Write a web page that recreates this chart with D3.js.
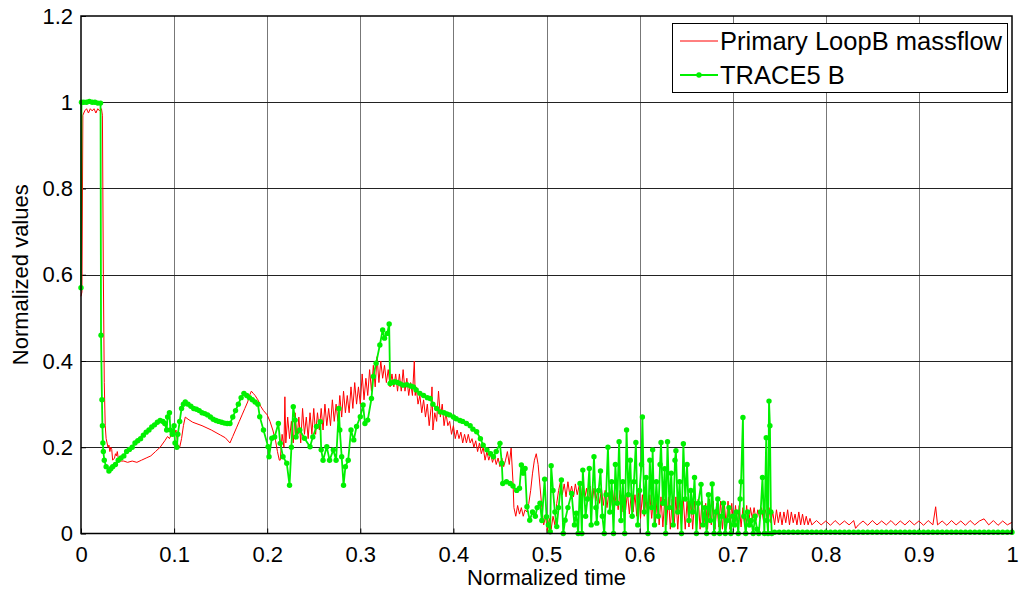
<!DOCTYPE html>
<html><head><meta charset="utf-8">
<script src="https://cdn.jsdelivr.net/npm/d3@7"></script>
<style>body{margin:0;background:#fff}svg{display:block}text{font-family:"Liberation Sans",Arial,sans-serif}</style>
</head><body><svg id="c" width="1021" height="596"></svg>
<script>
const xTicks=[0,0.1,0.2,0.3,0.4,0.5,0.6,0.7,0.8,0.9,1];
const yTicks=[0,0.2,0.4,0.6,0.8,1,1.2];
const seriesNames=["Primary LoopB massflow","TRACE5 B"];
const seriesColors=["#ff0000","#00f000"];
const xLabel="Normalized time", yLabel="Normalized values";

// Primary LoopB massflow: [normalized time, normalized value]
const redPts=[[0,0.55],[0.001,0.56],[0.002,0.97],[0.004,0.98],[0.006,0.985],[0.008,0.975],[0.010,0.985],[0.012,0.98],[0.014,0.985],[0.016,0.975],[0.018,0.985],[0.020,0.98],[0.022,0.985],[0.023,0.97],[0.024,0.6],[0.025,0.35],[0.026,0.25],[0.027,0.22],[0.028,0.21],[0.029,0.20],[0.030,0.205],[0.031,0.19],[0.032,0.2],[0.033,0.195],[0.034,0.17],[0.036,0.175],[0.037,0.185],[0.038,0.18],[0.039,0.19],[0.040,0.175],[0.042,0.168],[0.046,0.168],[0.05,0.165],[0.055,0.168],[0.06,0.165],[0.065,0.17],[0.07,0.175],[0.075,0.18],[0.08,0.19],[0.085,0.2],[0.09,0.215],[0.093,0.225],[0.095,0.22],[0.098,0.235],[0.1,0.225],[0.102,0.24],[0.104,0.205],[0.106,0.2],[0.108,0.22],[0.11,0.25],[0.112,0.27],[0.115,0.265],[0.12,0.258],[0.13,0.25],[0.14,0.24],[0.15,0.228],[0.155,0.222],[0.16,0.21],[0.163,0.225],[0.167,0.245],[0.17,0.26],[0.173,0.275],[0.176,0.29],[0.179,0.305],[0.181,0.32],[0.183,0.33],[0.185,0.325],[0.187,0.32],[0.19,0.31],[0.193,0.295],[0.196,0.285],[0.2,0.275],[0.203,0.26],[0.206,0.24],[0.209,0.215],[0.211,0.19],[0.213,0.17],
[0.214,0.17],[0.216,0.23],[0.218,0.20],[0.219,0.317],[0.220,0.21],[0.222,0.27],[0.224,0.22],[0.226,0.26],[0.228,0.21],[0.230,0.28],[0.232,0.22],[0.234,0.27],[0.236,0.21],[0.238,0.29],[0.240,0.23],[0.242,0.27],[0.244,0.22],[0.246,0.28],[0.248,0.23],[0.250,0.29],[0.252,0.23],[0.254,0.28],[0.256,0.24],[0.258,0.29],[0.260,0.24],[0.262,0.30],[0.264,0.25],[0.266,0.29],[0.268,0.25],[0.270,0.31],[0.272,0.26],[0.274,0.30],[0.276,0.26],[0.278,0.32],[0.280,0.27],[0.282,0.33],[0.284,0.28],[0.286,0.32],[0.288,0.28],[0.290,0.34],[0.292,0.29],[0.294,0.35],[0.296,0.30],[0.298,0.34],[0.300,0.30],[0.302,0.37],[0.304,0.31],[0.306,0.36],[0.308,0.32],[0.310,0.38],[0.312,0.33],[0.314,0.39],[0.316,0.34],[0.318,0.41],[0.320,0.35],[0.322,0.40],[0.324,0.36],[0.326,0.39],[0.328,0.35],[0.330,0.38],[0.332,0.34],[0.334,0.37],[0.336,0.34],[0.338,0.37],[0.340,0.33],
[0.342,0.37],[0.344,0.33],[0.346,0.38],[0.348,0.33],[0.350,0.36],[0.352,0.32],[0.354,0.35],[0.356,0.32],[0.358,0.40],[0.359,0.32],[0.360,0.34],[0.362,0.30],[0.364,0.32],[0.366,0.28],[0.368,0.31],[0.370,0.27],[0.372,0.30],[0.374,0.25],[0.376,0.29],[0.377,0.34],[0.378,0.24],[0.380,0.28],[0.382,0.26],[0.384,0.33],[0.386,0.27],[0.388,0.30],[0.390,0.25],[0.392,0.28],[0.394,0.25],[0.396,0.26],[0.398,0.23],[0.400,0.25],[0.402,0.22],[0.404,0.24],[0.406,0.22],[0.408,0.235],[0.410,0.21],[0.412,0.23],[0.414,0.21],[0.416,0.23],[0.418,0.21],[0.420,0.22],[0.422,0.20],[0.424,0.215],[0.426,0.19],[0.428,0.21],[0.430,0.185],[0.432,0.2],[0.434,0.17],[0.436,0.19],[0.438,0.17],[0.440,0.185],[0.442,0.165],[0.444,0.18],[0.446,0.16],[0.448,0.175],[0.450,0.155],[0.452,0.175],[0.454,0.155],[0.456,0.17],[0.458,0.19],[0.460,0.16],[0.462,0.198],[0.464,0.12],
[0.465,0.06],[0.467,0.04],[0.469,0.065],[0.471,0.045],[0.473,0.06],[0.475,0.04],[0.477,0.055],[0.479,0.05],[0.481,0.07],[0.483,0.1],[0.485,0.14],[0.487,0.17],[0.489,0.185],[0.491,0.16],[0.493,0.11],[0.495,0.06],[0.497,0.02],[0.499,0.04],[0.501,0.005],[0.503,0.035],[0.505,0.01],[0.507,0.04],[0.509,0.02],[0.511,0.07],[0.513,0.1],
[0.515,0.12],[0.517,0.09],[0.519,0.115],[0.521,0.085],[0.523,0.12],[0.525,0.09],[0.527,0.11],[0.529,0.085],[0.531,0.115],[0.533,0.09],[0.535,0.11],[0.537,0.08],[0.539,0.115],[0.541,0.08],[0.543,0.105],[0.545,0.075],[0.547,0.11],[0.549,0.07],[0.551,0.105],[0.553,0.075],[0.555,0.1],[0.557,0.07],[0.559,0.105],[0.561,0.065],[0.563,0.1],[0.565,0.06],[0.567,0.095],[0.569,0.065],[0.571,0.1],[0.573,0.06],[0.575,0.095],[0.577,0.055],[0.579,0.1],[0.581,0.05],[0.583,0.09],[0.585,0.055],[0.587,0.095],[0.589,0.045],[0.591,0.09],[0.593,0.05],[0.595,0.09],[0.597,0.04],[0.599,0.095],[0.601,0.035],[0.603,0.09],[0.605,0.04],[0.607,0.085],[0.609,0.03],[0.611,0.09],[0.613,0.035],[0.615,0.085],[0.617,0.025],[0.619,0.09],[0.621,0.02],[0.623,0.085],[0.625,0.015],[0.627,0.08],[0.629,0.02],[0.631,0.085],[0.633,0.01],[0.635,0.08],[0.637,0.015],[0.639,0.085],[0.641,0.01],[0.643,0.08],[0.645,0.02],[0.647,0.08],[0.649,0.01],[0.651,0.075],[0.653,0.015],[0.655,0.08],[0.657,0.01],[0.659,0.075],[0.661,0.02],[0.663,0.08],[0.665,0.01],[0.667,0.075],[0.669,0.015],[0.671,0.07],[0.673,0.01],[0.675,0.08],[0.677,0.02],[0.679,0.075],[0.681,0.01],[0.683,0.07],[0.685,0.015],[0.687,0.075],[0.689,0.01],[0.691,0.07],[0.693,0.02],[0.695,0.075],[0.697,0.01],[0.699,0.07],[0.701,0.015],[0.703,0.065],[0.705,0.02],[0.707,0.065],[0.709,0.015],[0.711,0.06],[0.713,0.02],[0.715,0.065],[0.717,0.015],[0.719,0.06],[0.721,0.035],[0.723,0.06],[0.725,0.03],[0.727,0.055],[0.729,0.035],[0.731,0.06],[0.733,0.03],[0.735,0.055],[0.737,0.035],[0.739,0.06],[0.741,0.025],[0.743,0.05],[0.745,0.02],[0.747,0.055],[0.749,0.025],[0.751,0.05],[0.753,0.02],[0.755,0.05],[0.757,0.025],[0.759,0.055],[0.761,0.02],[0.763,0.05],[0.765,0.025],[0.767,0.045],[0.769,0.02],[0.771,0.05],[0.773,0.02],[0.775,0.045],[0.777,0.02],[0.779,0.04],[0.781,0.02],[0.783,0.035],[0.785,0.02],
[0.79,0.03],[0.795,0.02],[0.8,0.029],[0.805,0.019],[0.81,0.03],[0.815,0.02],[0.82,0.029],[0.825,0.02],[0.83,0.03],[0.832,0.012],[0.835,0.02],[0.84,0.029],[0.845,0.019],[0.85,0.03],[0.855,0.02],[0.86,0.029],[0.865,0.02],[0.87,0.03],[0.875,0.019],[0.88,0.029],[0.885,0.02],[0.89,0.03],[0.895,0.02],[0.9,0.029],[0.905,0.019],[0.91,0.03],[0.915,0.02],[0.918,0.062],[0.92,0.02],[0.925,0.029],[0.93,0.019],[0.935,0.03],[0.94,0.02],[0.945,0.029],[0.95,0.019],[0.955,0.03],[0.96,0.02],[0.965,0.029],[0.97,0.034],[0.975,0.02],[0.98,0.03],[0.985,0.019],[0.99,0.029],[0.995,0.02],[1.0,0.026]];

// TRACE5 B: [normalized time, normalized value]
const greenPts=[[0,0.57],[0.0005,1.0],[0.003,1.0],[0.006,1.0],[0.009,1.002],[0.012,1.0],[0.015,1.0],[0.018,0.998],[0.021,0.998],[0.0215,0.46],[0.0225,0.31],[0.023,0.25],[0.0235,0.21],[0.024,0.19],[0.025,0.17],[0.027,0.155],[0.03,0.145],[0.032,0.15],[0.034,0.155],[0.037,0.16],[0.04,0.17],[0.043,0.175],[0.046,0.18],[0.049,0.19],[0.052,0.195],[0.055,0.2],[0.058,0.21],[0.061,0.215],[0.064,0.22],[0.067,0.228],[0.07,0.235],[0.073,0.24],[0.076,0.247],[0.079,0.252],[0.082,0.258],[0.085,0.262],[0.088,0.26],[0.09,0.255],[0.092,0.24],[0.093,0.27],[0.095,0.28],[0.096,0.24],[0.098,0.23],[0.1,0.25],[0.101,0.21],[0.103,0.2],[0.104,0.23],[0.106,0.26],[0.108,0.29],[0.11,0.3],[0.112,0.305],[0.115,0.3],[0.118,0.295],[0.121,0.29],[0.124,0.288],[0.127,0.285],[0.13,0.28],[0.133,0.278],[0.136,0.275],[0.139,0.27],[0.142,0.265],[0.145,0.262],[0.148,0.26],[0.151,0.258],[0.154,0.256],[0.157,0.255],[0.16,0.255],[0.163,0.27],[0.166,0.285],[0.169,0.3],[0.172,0.315],[0.175,0.325],[0.178,0.32],[0.181,0.315],[0.184,0.31],[0.187,0.305],[0.19,0.3],
[0.192,0.271],[0.196,0.24],[0.201,0.201],[0.202,0.178],[0.205,0.221],[0.208,0.224],[0.212,0.255],[0.214,0.209],[0.217,0.178],[0.221,0.163],[0.224,0.112],[0.226,0.2],[0.228,0.294],[0.23,0.263],[0.231,0.224],[0.235,0.24],[0.24,0.221],[0.246,0.201],[0.249,0.224],[0.253,0.248],[0.257,0.259],[0.258,0.194],[0.26,0.17],[0.264,0.201],[0.267,0.17],[0.271,0.194],[0.274,0.17],[0.277,0.29],[0.278,0.24],[0.28,0.178],[0.282,0.112],[0.284,0.155],[0.287,0.17],[0.29,0.24],[0.293,0.217],[0.296,0.248],[0.3,0.271],[0.303,0.298],[0.305,0.255],[0.308,0.263],[0.312,0.313],[0.314,0.364],[0.317,0.395],[0.321,0.437],[0.324,0.472],[0.326,0.453],[0.329,0.464],[0.331,0.486],[0.332,0.348],[0.335,0.35],[0.337,0.352],[0.34,0.35],[0.343,0.347],[0.346,0.344],[0.35,0.345],[0.354,0.342],[0.357,0.34],[0.36,0.333],[0.364,0.325],[0.368,0.32],[0.372,0.315],[0.375,0.313],[0.378,0.3],[0.382,0.29],[0.386,0.282],[0.39,0.28],[0.393,0.277],[0.396,0.275],[0.4,0.27],[0.403,0.266],[0.407,0.262],[0.41,0.26],[0.414,0.255],[0.418,0.25],[0.421,0.242],[0.425,0.236],[0.429,0.22],[0.432,0.205],[0.436,0.194],[0.44,0.185],[0.443,0.178],[0.446,0.19],[0.45,0.209],[0.452,0.163],[0.453,0.116],[0.457,0.12],[0.461,0.116],[0.464,0.11],[0.468,0.1],[0.471,0.105],[0.473,0.159],[0.475,0.14],[0.477,0.151],[0.479,0.062],[0.482,0.031],[0.485,0.05],[0.488,0.04],[0.49,0.06],[0.493,0.07],[0.495,0.03],[0.498,0.126],[0.5,0.039],[0.502,0.02],[0.504,0.004],[0.505,0.157],[0.507,0.1],[0.509,0.05],[0.511,0.016],[0.513,0.06],[0.516,0.124],[0.518,0.0],[0.52,0.031],[0.523,0.06],[0.527,0.093],[0.53,0.02],[0.532,0.047],[0.534,0.0],[0.536,0.116],[0.538,0.0],[0.539,0.147],[0.542,0.04],[0.544,0.08],[0.546,0.151],[0.548,0.02],[0.551,0.178],[0.553,0.06],[0.554,0.024],[0.556,0.1],[0.558,0.145],[0.56,0.04],[0.562,0.0],[0.564,0.09],[0.566,0.2],[0.568,0.05],[0.57,0.12],[0.572,0.0],[0.574,0.16],[0.576,0.07],[0.578,0.213],[0.58,0.03],[0.582,0.12],[0.584,0.0],[0.586,0.24],[0.588,0.09],[0.59,0.17],[0.592,0.04],[0.594,0.12],[0.596,0.211],[0.598,0.02],[0.6,0.1],[0.602,0.16],[0.603,0.27],[0.605,0.05],[0.607,0.13],[0.609,0.0],[0.611,0.17],[0.613,0.06],[0.614,0.194],[0.616,0.02],[0.618,0.12],[0.62,0.04],[0.622,0.16],[0.623,0.211],[0.625,0.07],[0.627,0.15],[0.628,0.0],[0.63,0.213],[0.632,0.06],[0.634,0.14],[0.636,0.02],[0.638,0.17],[0.639,0.192],[0.641,0.05],[0.643,0.12],[0.645,0.0],[0.647,0.208],[0.649,0.08],[0.651,0.16],[0.653,0.03],[0.655,0.1],[0.657,0.05],[0.659,0.13],[0.661,0.0],[0.663,0.07],[0.666,0.114],[0.668,0.02],[0.67,0.06],[0.672,0.0],[0.674,0.09],[0.676,0.03],[0.678,0.115],[0.68,0.0],[0.682,0.05],[0.684,0.08],[0.686,0.0],[0.688,0.04],[0.69,0.07],[0.692,0.0],[0.694,0.03],[0.696,0.06],[0.698,0.0],[0.7,0.04],[0.702,0.02],[0.704,0.05],[0.706,0.0],[0.708,0.08],[0.709,0.12],[0.711,0.269],[0.712,0.04],[0.714,0.0],[0.716,0.05],[0.718,0.02],[0.72,0.03],[0.722,0.0],[0.724,0.04],[0.726,0.01],[0.728,0.0],[0.73,0.05],[0.732,0.13],[0.734,0.0],[0.736,0.222],[0.737,0.03],[0.738,0.0],[0.739,0.307],[0.74,0.25],[0.741,0.05],[0.742,0.0],
[0.745,0.003],[0.75,0.003],[0.755,0.003],[0.76,0.003],[0.765,0.003],[0.77,0.003],[0.775,0.003],[0.78,0.003],[0.785,0.003],[0.79,0.003],[0.795,0.003],[0.8,0.003],[0.805,0.003],[0.81,0.003],[0.815,0.003],[0.82,0.003],[0.825,0.003],[0.83,0.003],[0.835,0.003],[0.84,0.003],[0.845,0.003],[0.85,0.003],[0.855,0.003],[0.86,0.003],[0.865,0.003],[0.87,0.003],[0.875,0.003],[0.88,0.003],[0.885,0.003],[0.89,0.003],[0.895,0.003],[0.9,0.003],[0.905,0.003],[0.91,0.003],[0.915,0.003],[0.92,0.003],[0.925,0.003],[0.93,0.003],[0.935,0.003],[0.94,0.003],[0.945,0.003],[0.95,0.003],[0.955,0.003],[0.96,0.003],[0.965,0.003],[0.97,0.003],[0.975,0.003],[0.98,0.003],[0.985,0.003],[0.99,0.003],[0.995,0.003],[1.0,0.003]];

const red=redPts.map(([t,v])=>({t,v}));
const green=greenPts.map(([t,v])=>({t,v}));

const L=81,T=16,W=931,H=517.5;
const svg=d3.select("#c");
const x=d3.scaleLinear().domain([0,1]).range([L,L+W]);
const y=d3.scaleLinear().domain([0,1.2]).range([T+H,T]);

// grid
const g=svg.append("g");
g.selectAll(".vg").data(xTicks.slice(1,-1)).join("line")
 .attr("x1",d=>Math.round(x(d))+0.5).attr("x2",d=>Math.round(x(d))+0.5).attr("y1",T).attr("y2",T+H)
 .attr("stroke","#777").attr("stroke-width",1);
g.selectAll(".hg").data(yTicks.slice(1,-1)).join("line")
 .attr("y1",d=>Math.round(y(d))+0.5).attr("y2",d=>Math.round(y(d))+0.5).attr("x1",L).attr("x2",L+W)
 .attr("stroke","#222").attr("stroke-width",1);

// axes
const xa=svg.append("g").attr("transform",`translate(0,${T+H})`)
 .call(d3.axisBottom(x).tickValues(xTicks).tickSize(-5).tickPadding(13).tickFormat(d=>d3.format("")(d)));
const ya=svg.append("g").attr("transform",`translate(${L},0)`)
 .call(d3.axisLeft(y).tickValues(yTicks).tickSize(-5).tickPadding(8).tickFormat(d=>d3.format("")(d)));
[xa,ya].forEach(a=>{a.select(".domain").remove();a.selectAll("text").attr("font-size",22).attr("fill","#000").style("font-family",'"Liberation Sans",Arial,sans-serif');a.selectAll("line").attr("stroke","#000");});
xa.selectAll("text").attr("dy","0.71em");

// lines
const line=d3.line().x(d=>x(d.t)).y(d=>y(d.v));
svg.append("path").datum(red).attr("d",line).attr("fill","none").attr("stroke",seriesColors[0]).attr("stroke-width",1);
svg.append("path").datum(green).attr("d",line).attr("fill","none").attr("stroke",seriesColors[1]).attr("stroke-width",1.8);
svg.append("g").selectAll("circle").data(green).join("circle")
 .attr("cx",d=>x(d.t)).attr("cy",d=>y(d.v)).attr("r",2.7).attr("fill",seriesColors[1]);

// frame
svg.append("rect").attr("x",L).attr("y",T).attr("width",W).attr("height",H).attr("fill","none").attr("stroke","#000").attr("stroke-width",1.5);

// labels
svg.append("text").attr("x",L+W/2).attr("y",585).attr("text-anchor","middle").attr("font-size",22).text(xLabel);
svg.append("text").attr("transform",`translate(28,${T+H/2}) rotate(-90)`).attr("text-anchor","middle").attr("font-size",22).text(yLabel);

// legend
const lg=svg.append("g");
lg.append("rect").attr("x",672.5).attr("y",23.5).attr("width",335).attr("height",69).attr("fill","#fff").attr("stroke","#000").attr("stroke-width",1);
seriesNames.forEach((n,i)=>{
 const yy=41+i*34;
 lg.append("line").attr("x1",680).attr("x2",718).attr("y1",yy).attr("y2",yy).attr("stroke",seriesColors[i]).attr("stroke-width",i?1.8:1);
 if(i===1) lg.append("circle").attr("cx",699).attr("cy",yy).attr("r",2.7).attr("fill",seriesColors[i]);
 lg.append("text").attr("x",720).attr("y",yy+9).attr("font-size",25.5).text(n);
});
</script></body></html>
